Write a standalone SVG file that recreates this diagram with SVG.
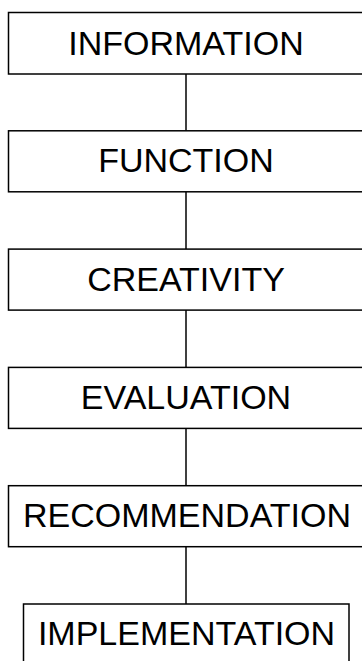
<svg xmlns="http://www.w3.org/2000/svg" width="362" height="661" viewBox="0 0 362 661">
  <style>
    .box { fill: #ffffff; stroke: #000000; stroke-width: 1.5; }
    .lbl { font-family: "Liberation Sans", Arial, sans-serif; font-size: 34px; fill: #000000; text-anchor: middle; }
    .link { stroke: #000000; stroke-width: 1.5; fill: none; }
  </style>
  <rect width="362" height="661" fill="#ffffff"/>

  <g id="connectors">
    <line class="link" x1="186" y1="74" x2="186" y2="130.8"/>
    <line class="link" x1="186" y1="191.8" x2="186" y2="249.1"/>
    <line class="link" x1="186" y1="310.1" x2="186" y2="367.4"/>
    <line class="link" x1="186" y1="428.4" x2="186" y2="485.7"/>
    <line class="link" x1="186" y1="546.7" x2="186" y2="604"/>
  </g>

  <g id="information">
    <rect class="box" x="8.5" y="12.5" width="356" height="61.5"/>
    <text class="lbl" x="186" y="54.5">INFORMATION</text>
  </g>
  <g id="function">
    <rect class="box" x="8.5" y="130.8" width="356" height="61"/>
    <text class="lbl" x="186" y="172.3">FUNCTION</text>
  </g>
  <g id="creativity">
    <rect class="box" x="8.5" y="249.1" width="356" height="61"/>
    <text class="lbl" x="186" y="290.8">CREATIVITY</text>
  </g>
  <g id="evaluation">
    <rect class="box" x="8.5" y="367.4" width="356" height="61"/>
    <text class="lbl" x="186" y="409.1">EVALUATION</text>
  </g>
  <g id="recommendation">
    <rect class="box" x="8.5" y="485.7" width="356" height="61"/>
    <text class="lbl" x="187" y="527.4">RECOMMENDATION</text>
  </g>
  <g id="implementation">
    <rect class="box" x="23.5" y="604" width="325.5" height="61"/>
    <text class="lbl" x="186.5" y="644.5">IMPLEMENTATION</text>
  </g>
</svg>
